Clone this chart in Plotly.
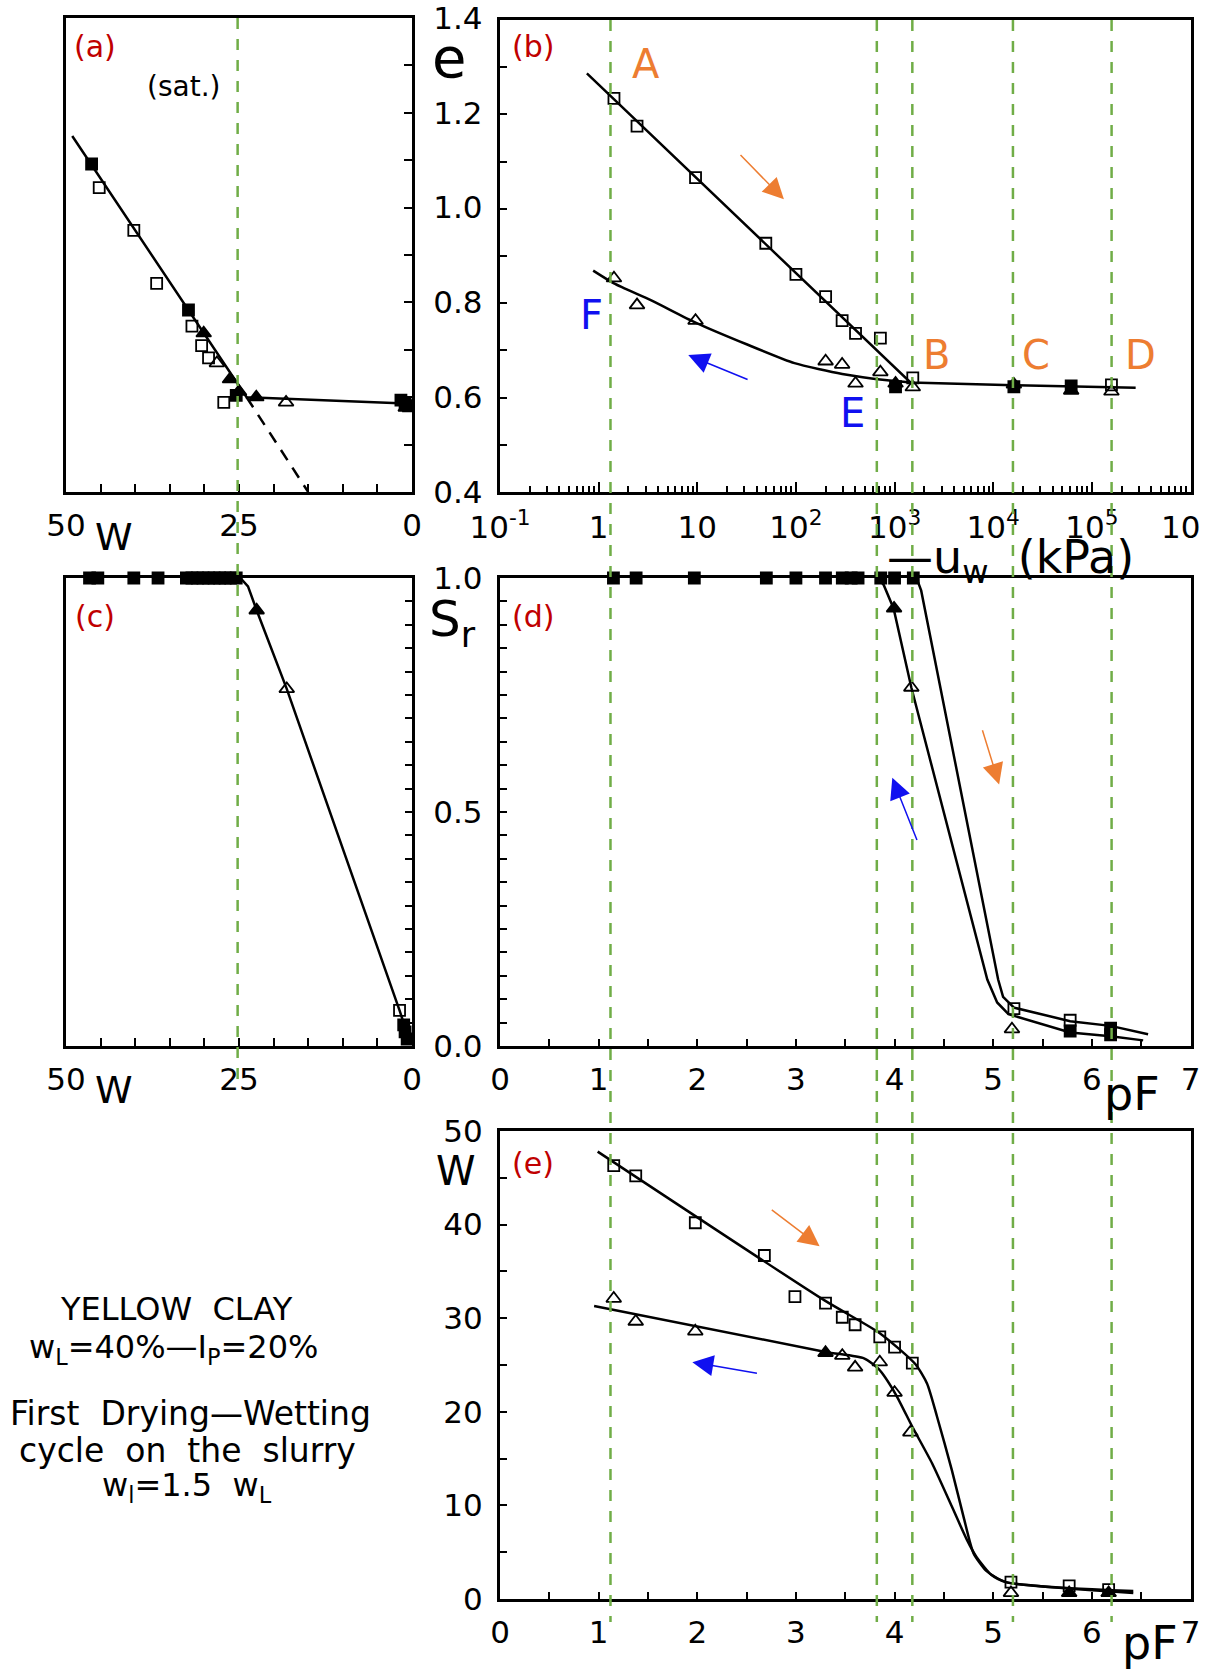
import math
import plotly.graph_objects as go

FIG_W, FIG_H = 1208, 1674
FONT = "DejaVu Sans"
GREEN = "#70AD47"
ORANGE = "#ED7D31"
BLUE = "#1010F0"
RED = "#C00000"

# ---------------- data ----------------
# (a) e vs w (saturated)
a_sq_open_w = [45.2, 40.2, 36.9, 31.8, 30.4, 29.4, 27.2]
a_sq_open_e = [1.042, 0.952, 0.840, 0.750, 0.709, 0.683, 0.589]
a_sq_fill_w = [46.3, 32.3, 25.4, 1.6, 1.0, 0.5]
a_sq_fill_e = [1.092, 0.784, 0.604, 0.594, 0.588, 0.582]
a_tri_open_w = [28.2, 18.2]
a_tri_open_e = [0.672, 0.589]
a_tri_fill_w = [30.1, 26.3, 25.0, 22.5, 0.9]
a_tri_fill_e = [0.735, 0.638, 0.612, 0.600, 0.578]
a_fit_w = [49.1, 23.9, 0.0]
a_fit_e = [1.151, 0.600, 0.586]
a_ext_w = [23.9, 15.0]
a_ext_e = [0.600, 0.400]

# (b) e vs suction -u_w (kPa)
b_sq_open_kpa = [1.43, 2.45, 9.6, 49.5, 100, 200, 294, 402, 718, 1530, 158000]
b_sq_open_e = [1.234, 1.175, 1.066, 0.927, 0.861, 0.814, 0.763, 0.736, 0.726, 0.642, 0.627]
b_sq_fill_kpa = [1023, 16200, 61700]
b_sq_fill_e = [0.623, 0.623, 0.625]
b_tri_open_kpa = [1.43, 2.45, 9.6, 200, 294, 402, 718, 1530, 158000]
b_tri_open_e = [0.853, 0.796, 0.763, 0.677, 0.670, 0.630, 0.654, 0.622, 0.613]
b_tri_fill_kpa = [1023, 16200, 61700]
b_tri_fill_e = [0.630, 0.628, 0.615]
b_dry_kpa = [0.76, 1450, 16200, 278000]
b_dry_e = [1.287, 0.632, 0.626, 0.621]
b_wet_kpa = [0.88, 1.43, 3.42, 9.6, 31.6, 96.6, 295, 890, 1450]
b_wet_e = [0.869, 0.842, 0.806, 0.759, 0.713, 0.673, 0.650, 0.636, 0.632]

# (c) Sr vs w
c_sq_fill_w = [46.6, 45.4, 40.2, 36.7, 32.6, 31.8, 31.0, 30.2, 29.4, 28.6, 27.8, 27.0, 26.2, 25.4]
c_sq_fill_s = [1.0, 1.0, 1.0, 1.0, 1.0, 1.0, 1.0, 1.0, 1.0, 1.0, 1.0, 1.0, 1.0, 1.0]
c_sq_low_w = [1.2, 1.0, 0.7]
c_sq_low_s = [0.045, 0.030, 0.015]
c_sq_open_w = [1.8]
c_sq_open_s = [0.076]
c_tri_fill_w = [22.45]
c_tri_fill_s = [0.931]
c_tri_open_w = [18.1]
c_tri_open_s = [0.763]
c_fit_w = [24.8, 23.7, 22.45, 18.1, 1.8, 0.35]
c_fit_s = [1.0, 0.982, 0.931, 0.763, 0.076, 0.011]

# (d) Sr vs pF
d_sq_top_pf = [1.15, 1.38, 1.97, 2.70, 3.0, 3.30, 3.47, 3.56, 3.63, 3.86, 4.0, 4.19]
d_sq_top_s = [1.0, 1.0, 1.0, 1.0, 1.0, 1.0, 1.0, 1.0, 1.0, 1.0, 1.0, 1.0]
d_sq_open_pf = [5.21, 5.78]
d_sq_open_s = [0.080, 0.055]
d_sq_fill_pf = [5.78, 6.19, 6.19]
d_sq_fill_s = [0.032, 0.038, 0.024]
d_tri_fill_pf = [3.995]
d_tri_fill_s = [0.935]
d_tri_open_pf = [4.17, 5.19]
d_tri_open_s = [0.766, 0.036]
d_dry_pf = [4.20, 4.24, 4.27, 5.05, 5.10, 5.21, 5.78, 6.19, 6.57]
d_dry_s = [1.0, 0.99, 0.973, 0.142, 0.105, 0.082, 0.053, 0.043, 0.025]
d_wet_pf = [3.83, 3.89, 3.99, 4.17, 4.94, 5.04, 5.155, 5.78, 6.19, 6.52]
d_wet_s = [1.0, 0.985, 0.935, 0.766, 0.142, 0.093, 0.068, 0.029, 0.021, 0.012]

# (e) w vs pF
e_sq_pf = [1.153, 1.376, 1.98, 2.68, 2.99, 3.30, 3.47, 3.60, 3.85, 4.0, 4.18, 5.18, 5.77, 6.17]
e_sq_w = [46.3, 45.2, 40.2, 36.7, 32.3, 31.6, 30.1, 29.3, 28.0, 26.9, 25.2, 1.8, 1.4, 1.0]
e_tri_open_pf = [1.153, 1.376, 1.98, 3.47, 3.60, 3.85, 4.0, 4.16, 5.18]
e_tri_open_w = [32.1, 29.65, 28.6, 26.0, 24.75, 25.3, 22.05, 17.8, 0.65]
e_tri_fill_pf = [3.30, 5.77, 6.17]
e_tri_fill_w = [26.3, 0.65, 0.65]
e_dry_pf = [0.99, 3.29, 3.85, 4.21, 4.33, 4.43, 4.58, 4.70, 4.80, 4.93, 5.13, 6.42]
e_dry_w = [47.8, 31.9, 28.4, 25.1, 23.0, 19.5, 13.8, 8.75, 4.9, 3.0, 1.8, 0.85]
e_wet_pf = [0.954, 3.30, 3.69, 3.84, 4.01, 4.18, 4.38, 4.58, 4.73, 4.83, 4.98, 5.13, 6.42]
e_wet_w = [31.3, 26.4, 25.7, 24.55, 21.9, 18.4, 14.5, 9.9, 6.4, 4.5, 2.6, 1.8, 0.65]

# guide lines
guide_pf = [1.12, 3.82, 4.18, 5.20, 6.20]
guide_w = [25.2]

# tick labels
a_x_ticks = [50, 45, 40, 35, 30, 25, 20, 15, 10, 5, 0]
a_x_text = ["50", "", "", "", "", "25", "", "", "", "", "0"]
e_ticks = [0.4, 0.5, 0.6, 0.7, 0.8, 0.9, 1.0, 1.1, 1.2, 1.3, 1.4]
e_text = ["0.4", "", "0.6", "", "0.8", "", "1.0", "", "1.2", "", "1.4"]
b_x_ticks = [0.1, 1, 10, 100, 1000, 1e4, 1e5, 1e6]
b_x_text = ["10<sup>-1</sup>", "1", "10", "10<sup>2</sup>", "10<sup>3</sup>",
            "10<sup>4</sup>", "10<sup>5</sup>", "10\u00a0\u00a0"]
sr_ticks = [i * 0.05 for i in range(21)]
sr_text = ["0.0"] + [""] * 9 + ["0.5"] + [""] * 9 + ["1.0"]
pf_ticks = [i * 0.5 for i in range(15)]
pf_text = [str(i // 2) if i % 2 == 0 else "" for i in range(15)]
w_ticks = [0, 5, 10, 15, 20, 25, 30, 35, 40, 45, 50]
w_text = ["0", "", "10", "", "20", "", "30", "", "40", "", "50"]

# arrows (tail, head)
b_arrow_orange = ((26.5, 1.117), (75.5, 1.020))
b_arrow_blue = ((33.5, 0.637), (8.1, 0.690))
d_arrow_orange = ((4.886, 0.678), (5.06, 0.559))
d_arrow_blue = ((4.233, 0.437), (3.977, 0.573))
e_arrow_orange = ((2.74, 41.7), (3.24, 37.7))
e_arrow_blue = ((2.62, 24.1), (1.95, 25.3))

# ---------------- figure ----------------
fig = go.Figure()


def pts(x, y, xa, ya, symbol, size=11):
    fig.add_trace(go.Scatter(
        x=x, y=y, xaxis=xa, yaxis=ya, mode="markers", cliponaxis=False,
        marker=dict(symbol=symbol, size=size, color="black",
                    line=dict(color="black", width=1.8)),
        showlegend=False, hoverinfo="skip"))


def curve(x, y, xa, ya, dash="solid", shape="linear", width=2.5):
    fig.add_trace(go.Scatter(
        x=x, y=y, xaxis=xa, yaxis=ya, mode="lines", cliponaxis=False,
        line=dict(color="black", width=width, dash=dash, shape=shape,
                  smoothing=0.6),
        showlegend=False, hoverinfo="skip"))


TRI = 13

# (a)
curve(a_fit_w, a_fit_e, "x", "y")
curve(a_ext_w, a_ext_e, "x", "y", dash="12px,9px")
pts(a_sq_open_w, a_sq_open_e, "x", "y", "square-open")
pts(a_sq_fill_w, a_sq_fill_e, "x", "y", "square")
pts(a_tri_open_w, a_tri_open_e, "x", "y", "triangle-up-open", TRI)
pts(a_tri_fill_w, a_tri_fill_e, "x", "y", "triangle-up", TRI)
# (b)
curve(b_dry_kpa, b_dry_e, "x2", "y2")
curve(b_wet_kpa, b_wet_e, "x2", "y2", shape="spline")
pts(b_sq_open_kpa, b_sq_open_e, "x2", "y2", "square-open")
pts(b_sq_fill_kpa, b_sq_fill_e, "x2", "y2", "square")
pts(b_tri_open_kpa, b_tri_open_e, "x2", "y2", "triangle-up-open", TRI)
pts(b_tri_fill_kpa, b_tri_fill_e, "x2", "y2", "triangle-up", TRI)
# (c)
curve(c_fit_w, c_fit_s, "x3", "y3")
pts(c_sq_fill_w, c_sq_fill_s, "x3", "y3", "square")
pts(c_sq_low_w, c_sq_low_s, "x3", "y3", "square")
pts(c_sq_open_w, c_sq_open_s, "x3", "y3", "square-open")
pts(c_tri_fill_w, c_tri_fill_s, "x3", "y3", "triangle-up", TRI)
pts(c_tri_open_w, c_tri_open_s, "x3", "y3", "triangle-up-open", TRI)
# (d)
curve(d_dry_pf, d_dry_s, "x4", "y4")
curve(d_wet_pf, d_wet_s, "x4", "y4")
pts(d_sq_top_pf, d_sq_top_s, "x4", "y4", "square")
pts(d_sq_open_pf, d_sq_open_s, "x4", "y4", "square-open")
pts(d_sq_fill_pf, d_sq_fill_s, "x4", "y4", "square")
pts(d_tri_fill_pf, d_tri_fill_s, "x4", "y4", "triangle-up", TRI)
pts(d_tri_open_pf, d_tri_open_s, "x4", "y4", "triangle-up-open", TRI)
# (e)
curve(e_dry_pf, e_dry_w, "x5", "y5", shape="spline")
curve(e_wet_pf, e_wet_w, "x5", "y5", shape="spline")
pts(e_sq_pf, e_sq_w, "x5", "y5", "square-open")
pts(e_tri_open_pf, e_tri_open_w, "x5", "y5", "triangle-up-open", TRI)
pts(e_tri_fill_pf, e_tri_fill_w, "x5", "y5", "triangle-up", TRI)

# ---------------- axes ----------------
XL = [66 / FIG_W, 412 / FIG_W]
XR = [500 / FIG_W, 1190.5 / FIG_W]
Y1 = [1 - 492 / FIG_H, 1 - 18 / FIG_H]
Y1b = [1 - 492 / FIG_H, 1 - 20 / FIG_H]
Y2 = [1 - 1046 / FIG_H, 1 - 578 / FIG_H]
Y3 = [1 - 1599 / FIG_H, 1 - 1131 / FIG_H]

base = dict(showline=True, linecolor="black", linewidth=3, mirror=True,
            ticks="inside", tickcolor="black", tickwidth=2, ticklen=8,
            showgrid=False, zeroline=False, fixedrange=True, automargin=False,
            ticklabeloverflow="allow",
            tickfont=dict(family=FONT, size=31, color="black"))


def ax(**kw):
    d = dict(base)
    d.update(kw)
    return d


log_minor = [k * 10 ** d for d in range(-1, 6) for k in range(2, 10)]

fig.update_layout(
    width=FIG_W, height=FIG_H, autosize=False,
    margin=dict(l=0, r=0, t=0, b=0, autoexpand=False),
    paper_bgcolor="white", plot_bgcolor="white",
    font=dict(family=FONT, color="black"),
    xaxis=ax(domain=XL, anchor="y", range=[50, 0], tickmode="array",
             tickvals=a_x_ticks, ticktext=a_x_text, ticklabelstandoff=4),
    yaxis=ax(domain=Y1, anchor="x", range=[0.4, 1.4], side="right",
             tickmode="array", tickvals=e_ticks, ticktext=e_text,
             ticklabelstandoff=12),
    xaxis2=ax(domain=XR, anchor="y2", type="log", range=[-1, 6],
              tickmode="array", tickvals=b_x_ticks, ticktext=b_x_text,
              ticklen=10, ticklabelstandoff=6,
              minor=dict(tickmode="array", tickvals=log_minor,
                         ticks="inside", ticklen=6, tickwidth=1.5,
                         tickcolor="black", showgrid=False)),
    yaxis2=ax(domain=Y1b, anchor="x2", range=[0.4, 1.4], tickmode="array",
              tickvals=e_ticks, showticklabels=False, ticklen=7),
    xaxis3=ax(domain=XL, anchor="y3", range=[50, 0], tickmode="array",
              tickvals=a_x_ticks, ticktext=a_x_text, ticklabelstandoff=4),
    yaxis3=ax(domain=Y2, anchor="x3", range=[0, 1], side="right",
              tickmode="array", tickvals=sr_ticks, ticktext=sr_text,
              ticklabelstandoff=12, ticklen=7),
    xaxis4=ax(domain=XR, anchor="y4", range=[0, 7], tickmode="array",
              tickvals=pf_ticks, ticktext=pf_text, ticklabelstandoff=4,
              ticklen=7),
    yaxis4=ax(domain=Y2, anchor="x4", range=[0, 1], tickmode="array",
              tickvals=sr_ticks, showticklabels=False, ticklen=7),
    xaxis5=ax(domain=XR, anchor="y5", range=[0, 7], tickmode="array",
              tickvals=pf_ticks, ticktext=pf_text, ticklabelstandoff=4,
              ticklen=7),
    yaxis5=ax(domain=Y3, anchor="x5", range=[0, 50], tickmode="array",
              tickvals=w_ticks, ticktext=w_text, ticklabelstandoff=8,
              ticklen=7),
)

# ---------------- guide lines ----------------
for p in guide_pf:
    fig.add_shape(type="line", xref="x4", yref="paper", x0=p, x1=p,
                  y0=1 - 20 / FIG_H, y1=1 - 1622 / FIG_H, layer="above",
                  line=dict(color=GREEN, width=2.5, dash="11px,10px"))
for w in guide_w:
    fig.add_shape(type="line", xref="x", yref="paper", x0=w, x1=w,
                  y0=1 - 18 / FIG_H, y1=1 - 1080 / FIG_H, layer="above",
                  line=dict(color=GREEN, width=2.5, dash="11px,10px"))


# ---------------- text ----------------
def ptxt(text, x, y, size, color="black", xanchor="center"):
    fig.add_annotation(text=text, x=x / FIG_W, y=1 - y / FIG_H, xref="paper",
                       yref="paper", showarrow=False, xanchor=xanchor,
                       yanchor="middle",
                       font=dict(family=FONT, size=size, color=color))


# axis titles
ptxt("e", 449, 58, 56)
ptxt("W", 114, 537, 38)
ptxt("S<sub>r</sub>", 452, 622, 50)
ptxt("W", 114, 1090, 38)
ptxt("—u<sub>w</sub>\u00a0\u00a0(kPa)", 1010, 560, 46)
ptxt("pF", 1132, 1094, 46)
ptxt("pF", 1150, 1643, 46)
ptxt("W", 456, 1171, 40)
ptxt("(sat.)", 183, 87, 28)

# panel labels
for lab, x, y in [("(a)", 95, 46), ("(b)", 533, 46), ("(c)", 95, 616),
                  ("(d)", 533, 616), ("(e)", 533, 1163)]:
    ptxt(lab, x, y, 30, RED)

# note block
ptxt("YELLOW\u00a0\u00a0CLAY", 176, 1309, 32)
ptxt("w<sub>L</sub>=40%—I<sub>P</sub>=20%", 173, 1349, 32)
ptxt("First\u00a0\u00a0Drying—Wetting", 190, 1413, 33)
ptxt("cycle\u00a0\u00a0on\u00a0\u00a0the\u00a0\u00a0slurry", 187, 1450, 33)
ptxt("w<sub>l</sub>=1.5\u00a0\u00a0w<sub>L</sub>", 187, 1487, 32)

# letters in (b), data coordinates (log axis -> log10)
b_letters = [("A", 3.0, 1.307, ORANGE), ("F", 0.85, 0.775, BLUE),
             ("E", 378, 0.567, BLUE), ("B", 2680, 0.690, ORANGE),
             ("C", 27000, 0.690, ORANGE), ("D", 309000, 0.690, ORANGE)]
for t, kx, ey, col in b_letters:
    fig.add_annotation(text=t, x=math.log10(kx), y=ey, xref="x2", yref="y2",
                       showarrow=False, font=dict(family=FONT, size=40,
                                                  color=col))


def arrow(tail, head, xr, yr, color, logx=False):
    fx = (lambda v: math.log10(v)) if logx else (lambda v: v)
    fig.add_annotation(text="", x=fx(head[0]), y=head[1], ax=fx(tail[0]),
                       ay=tail[1], xref=xr, yref=yr, axref=xr, ayref=yr,
                       showarrow=True, arrowhead=2, arrowsize=2.8,
                       arrowwidth=1.5, arrowcolor=color, standoff=0)


arrow(*b_arrow_orange, "x2", "y2", ORANGE, logx=True)
arrow(*b_arrow_blue, "x2", "y2", BLUE, logx=True)
arrow(*d_arrow_orange, "x4", "y4", ORANGE)
arrow(*d_arrow_blue, "x4", "y4", BLUE)
arrow(*e_arrow_orange, "x5", "y5", ORANGE)
arrow(*e_arrow_blue, "x5", "y5", BLUE)

fig.write_html(
    "out.html",
    config={"displayModeBar": False},
    post_script="document.body.style.margin='0';"
                "document.body.style.overflow='hidden';")
